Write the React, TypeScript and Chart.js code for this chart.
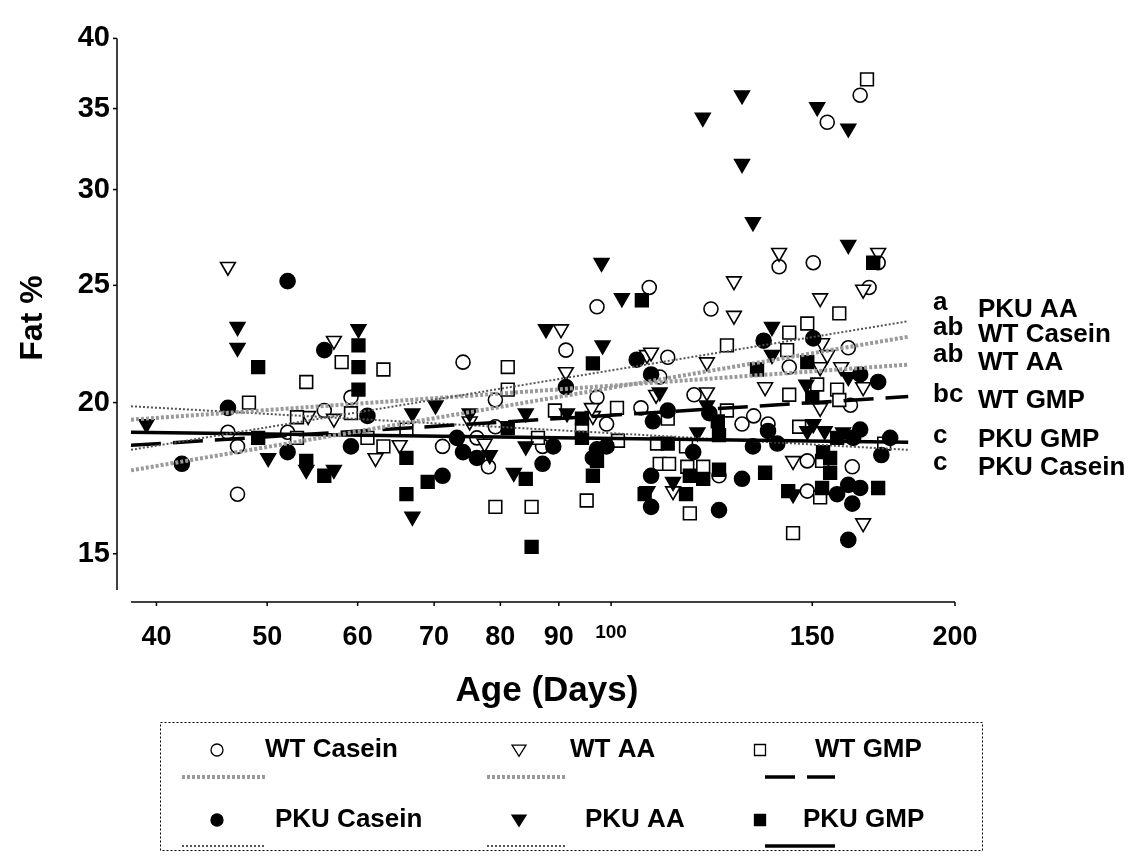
import React, { useEffect, useRef } from 'react';
import { Chart, registerables } from 'chart.js';

Chart.register(...registerables);

const FONT = "'Liberation Sans', Arial, Helvetica, sans-serif";

const X_MIN = 38;
const X_MAX = 200;
const Y_MIN = 14;
const Y_MAX = 40;
const xTicks = [40, 50, 60, 70, 80, 90, 100, 150, 200];
const yTicks = [15, 20, 25, 30, 35, 40];

const wtCasein: [number, number][] = [
  [97.2, 24.0], [108, 24.9], [165.2, 35.9], [154.6, 34.1], [140.3, 25.9], [150.3, 26.1], [171.3, 26.1],
  [168.2, 24.9], [122.3, 23.9], [74.2, 21.6], [91.3, 22.1], [97.2, 20.2], [79.2, 20.1], [106.2, 19.8],
  [59.2, 20.2], [56.1, 19.7], [46.2, 18.9], [52.1, 18.9], [47.1, 18.4], [47.1, 16.8], [99.1, 19.2],
  [79.2, 19.1], [71.2, 18.4], [76.3, 18.7], [78.1, 17.7], [87.1, 18.4], [112.1, 21.8], [110.3, 21.0],
  [161.3, 22.2], [143.2, 21.4], [162, 19.9], [118.2, 20.3], [133.3, 19.5], [130.2, 19.2], [137.2, 19.2],
  [148.5, 17.9], [162.6, 17.7], [148.5, 16.9], [124.3, 17.4],
];

const wtAA: [number, number][] = [
  [46.2, 25.9], [57.2, 22.5], [54.3, 19.5], [57.2, 19.4], [62.2, 18.0], [65.3, 18.45], [75.2, 19.3],
  [77.5, 18.5], [90.4, 23.0], [91.3, 21.2], [96.4, 19.5], [96.2, 19.8], [107.5, 21.9], [140.3, 26.6],
  [171.3, 26.6], [166.2, 24.8], [128.1, 25.2], [128.1, 23.6], [152.4, 24.4], [153, 22.4], [108.4, 22.0],
  [121.3, 21.6], [152.4, 21.4], [159, 21.4], [136.4, 20.6], [166.2, 20.6], [109.5, 20.3], [121.3, 20.4],
  [152.4, 19.8], [144.3, 17.9], [113.3, 16.9], [166.2, 15.9], [154.6, 21.9],
];

const wtGmp: [number, number][] = [
  [48.2, 20.0], [53.1, 19.45], [53.1, 18.7], [54.1, 20.8], [58.1, 21.6], [59.2, 19.6], [61.2, 18.7],
  [63.2, 21.3], [63.2, 18.4], [66.2, 19.0], [81.2, 21.4], [81.2, 20.5], [89.3, 19.7], [86.3, 18.7],
  [94.3, 19.0], [101.2, 19.8], [79.2, 16.4], [85.2, 16.4], [95.2, 16.6], [101.4, 18.6], [167.5, 37.0],
  [158.4, 23.7], [148.5, 23.25], [143.2, 22.85], [126.3, 22.3], [142.6, 22.1], [151.5, 20.7], [157.7, 20.5],
  [143.2, 20.3], [158.4, 20.1], [126.3, 19.7], [146.1, 19.1], [112.1, 19.4], [109.7, 18.5], [116.3, 18.4],
  [153, 17.9], [110.3, 17.8], [112.4, 17.8], [116.6, 17.7], [120.4, 17.7], [152.4, 16.7], [117.2, 16.2],
  [144.3, 15.6], [173.4, 18.5],
];

const pkuCasein: [number, number][] = [
  [42.1, 17.8], [46.2, 19.8], [52.1, 25.2], [56.1, 22.1], [61.2, 19.5], [59.2, 18.4], [52.1, 18.2],
  [73.3, 18.7], [74.2, 18.2], [76.3, 18.0], [71.2, 17.4], [87.1, 17.8], [89, 18.4], [91.3, 20.6],
  [97.2, 18.3], [99.1, 18.4], [96.4, 18.0], [105.3, 21.7], [108.8, 19.3], [112.1, 19.7], [108.4, 17.4],
  [108.4, 16.4], [118, 18.2], [121.9, 19.6], [124.3, 16.3], [130.2, 17.3], [133.1, 18.4], [137.2, 18.95],
  [139.8, 18.5], [136, 22.5], [150.3, 22.6], [165.2, 21.1], [171.3, 20.8], [165.2, 19.0], [162.9, 18.7],
  [175.5, 18.7], [172.4, 18.1], [157.7, 16.8], [161.3, 17.1], [165.2, 17.0], [162.6, 16.5], [161.3, 15.4],
  [108.4, 21.1],
];

const pkuAA: [number, number][] = [
  [39.2, 19.2], [47.1, 23.1], [47.1, 22.2], [60.1, 23.0], [50.1, 18.0], [54.1, 17.6], [57.2, 17.6],
  [67.0, 19.6], [70.2, 19.9], [75.2, 19.6], [78.3, 18.1], [84.2, 18.4], [84.2, 19.6], [82.2, 17.5],
  [67.0, 16.1], [87.7, 23.0], [91.5, 19.6], [98.3, 22.3], [98.1, 26.1], [102.2, 24.4], [120.3, 34.4],
  [130.2, 35.9], [151.5, 35.1], [161.3, 33.7], [130.2, 31.5], [133.1, 28.2], [161.3, 27.0], [138.3, 23.1],
  [138.3, 21.9], [161.3, 21.0], [148.2, 20.7], [110.3, 20.4], [121.3, 19.9], [119, 18.9], [150.3, 19.2],
  [148.5, 18.95], [153.8, 18.95], [159.6, 18.9], [113.3, 17.2], [107.6, 16.9], [144.3, 16.8],
];

const pkuGmp: [number, number][] = [
  [49.1, 21.4], [49.1, 18.7], [60.1, 22.3], [60.1, 21.4], [60.1, 20.5], [54.1, 17.9], [56.1, 17.4],
  [66.2, 18.0], [66.2, 16.8], [69.1, 17.2], [81.2, 19.05], [84.2, 17.3], [85.2, 15.2], [94.3, 19.4],
  [94.3, 18.7], [96.4, 21.55], [97.2, 17.9], [96.4, 17.4], [106.4, 24.3], [107, 16.8], [169.6, 26.1],
  [148.5, 21.6], [134.2, 21.3], [150, 20.2], [124, 19.3], [124.3, 18.8], [157.7, 18.7], [112.1, 18.5],
  [153.3, 18.2], [155.5, 18.0], [155.5, 17.5], [117.2, 17.4], [120.4, 17.3], [116.3, 16.8], [124.3, 17.6],
  [136.4, 17.5], [142.9, 16.9], [153, 17.0], [171.3, 17.0],
];

// regression lines: values at fitX[0] and fitX[1]
const fitX = [38, 182];
const fitPkuAA = [18.28, 23.35];
const fitWtCasein = [17.58, 22.67];
const fitWtAA = [19.36, 21.5];
const fitWtGmp = [18.44, 20.23];
const fitPkuGmp = [18.9, 18.55];
const fitPkuCasein = [19.86, 18.28];

const sigLetters = ['a', 'ab', 'ab', 'bc', 'c', 'c'];
const sigNames = ['PKU AA', 'WT Casein', 'WT AA', 'WT GMP', 'PKU GMP', 'PKU Casein'];

const legendNames = ['WT Casein', 'WT AA', 'WT GMP', 'PKU Casein', 'PKU AA', 'PKU GMP'];

const GREY_BAND = { color: '#9a9a9a', width: 4, dash: [3, 2] };
const FINE_DOT = { color: '#555555', width: 2, dash: [2, 2] };
const BLACK_DASH = { color: '#000000', width: 3.5, dash: [30, 12] };
const SOLID = { color: '#000000', width: 3.5, dash: [] as number[] };

const toPts = (arr: [number, number][]) => arr.map(([x, y]) => ({ x, y }));
const fitPts = (f: number[]) => [{ x: fitX[0], y: f[0] }, { x: fitX[1], y: f[1] }];

function drawMarker(ctx: CanvasRenderingContext2D, kind: string, filled: boolean, x: number, y: number, r: number) {
  ctx.beginPath();
  if (kind === 'circle') {
    ctx.arc(x, y, r, 0, Math.PI * 2);
  } else if (kind === 'rect') {
    ctx.rect(x - r, y - r, 2 * r, 2 * r);
  } else {
    ctx.moveTo(x - r, y - r * 0.7);
    ctx.lineTo(x + r, y - r * 0.7);
    ctx.lineTo(x, y + r * 0.9);
    ctx.closePath();
  }
  ctx.fillStyle = filled ? '#000' : '#fff';
  ctx.fill();
  ctx.lineWidth = 1.3;
  ctx.strokeStyle = '#000';
  ctx.stroke();
}

const decorPlugin = {
  id: 'decor',
  afterDraw(chart: any) {
    const { ctx, chartArea, scales } = chart;
    const xs = scales.x;
    const ys = scales.y;
    ctx.save();
    ctx.strokeStyle = '#000';
    ctx.lineWidth = 1.5;
    ctx.setLineDash([]);
    // y axis (offset)
    const ax = chartArea.left - 14;
    ctx.beginPath();
    ctx.moveTo(ax, ys.getPixelForValue(Y_MAX));
    ctx.lineTo(ax, chartArea.bottom);
    ctx.stroke();
    yTicks.forEach((v) => {
      const p = ys.getPixelForValue(v);
      ctx.beginPath();
      ctx.moveTo(ax - 4, p);
      ctx.lineTo(ax, p);
      ctx.stroke();
    });
    // x axis (offset)
    const ay = chartArea.bottom + 12;
    ctx.beginPath();
    ctx.moveTo(chartArea.left, ay);
    ctx.lineTo(chartArea.right, ay);
    ctx.stroke();
    xTicks.forEach((v) => {
      const p = xs.getPixelForValue(v);
      ctx.beginPath();
      ctx.moveTo(p, ay);
      ctx.lineTo(p, ay + 4);
      ctx.stroke();
    });

    ctx.fillStyle = '#000';
    // axis titles
    ctx.font = `bold 32px ${FONT}`;
    ctx.textAlign = 'center';
    ctx.textBaseline = 'middle';
    ctx.save();
    ctx.translate(33, 318);
    ctx.rotate(-Math.PI / 2);
    ctx.fillText('Fat %', 0, 0);
    ctx.restore();
    ctx.font = `bold 35px ${FONT}`;
    ctx.fillText('Age (Days)', 547, 691);

    // significance annotations
    const letterBase = [310, 335, 362, 402, 443, 470];
    const nameBase = [317, 342, 370, 408, 447, 475];
    ctx.textAlign = 'left';
    ctx.textBaseline = 'alphabetic';
    ctx.font = `bold 26px ${FONT}`;
    sigLetters.forEach((t, i) => ctx.fillText(t, 933, letterBase[i]));
    sigNames.forEach((t, i) => ctx.fillText(t, 978, nameBase[i]));

    // legend box
    ctx.lineWidth = 1;
    ctx.setLineDash([2, 2]);
    ctx.strokeRect(160.5, 722.5, 822, 128);
    ctx.setLineDash([]);

    const markerX = [217, 519, 760];
    const textX = [[265, 570, 815], [275, 585, 803]];
    const kinds = ['circle', 'tri', 'rect'];
    const rowY = [750, 820];
    const lineY = [777, 846];
    const lineRanges = [[182, 265], [487, 565], [765, 835]];
    const rowStyles = [[GREY_BAND, GREY_BAND, BLACK_DASH], [FINE_DOT, FINE_DOT, SOLID]];
    ctx.font = `bold 26px ${FONT}`;
    ctx.textBaseline = 'middle';
    for (let r = 0; r < 2; r++) {
      for (let c = 0; c < 3; c++) {
        const sz = kinds[c] === 'tri' ? 7 : kinds[c] === 'rect' ? 5.5 : 6;
        drawMarker(ctx, kinds[c], r === 1, markerX[c], rowY[r], sz);
        ctx.fillStyle = '#000';
        ctx.fillText(legendNames[r * 3 + c], textX[r][c], rowY[r]);
        const st = rowStyles[r][c];
        ctx.strokeStyle = st.color;
        ctx.lineWidth = st.width;
        ctx.setLineDash(st.dash);
        ctx.beginPath();
        ctx.moveTo(lineRanges[c][0], lineY[r]);
        ctx.lineTo(lineRanges[c][1], lineY[r]);
        ctx.stroke();
        ctx.setLineDash([]);
        ctx.strokeStyle = '#000';
      }
    }
    ctx.restore();
  },
};

export default function App() {
  const ref = useRef<HTMLCanvasElement | null>(null);
  useEffect(() => {
    if (!ref.current) return;
    const lineDs = (label: string, f: number[], st: any) => ({
      label,
      data: fitPts(f),
      showLine: true,
      borderColor: st.color,
      borderWidth: st.width,
      borderDash: st.dash,
      pointRadius: 0,
      fill: false,
      order: 0,
    });
    const pointDs = (label: string, arr: [number, number][], style: string, filled: boolean, r: number, rot = 0) => ({
      label,
      data: toPts(arr),
      showLine: false,
      pointStyle: style,
      pointRadius: r,
      pointRotation: rot,
      pointBackgroundColor: filled ? '#000' : '#fff',
      pointBorderColor: '#000',
      pointBorderWidth: 1.6,
      order: 1,
    });
    const chart = new Chart(ref.current, {
      type: 'scatter',
      data: {
        datasets: [
          lineDs('PKU AA fit', fitPkuAA, FINE_DOT),
          lineDs('WT Casein fit', fitWtCasein, GREY_BAND),
          lineDs('WT AA fit', fitWtAA, GREY_BAND),
          lineDs('WT GMP fit', fitWtGmp, BLACK_DASH),
          lineDs('PKU GMP fit', fitPkuGmp, SOLID),
          lineDs('PKU Casein fit', fitPkuCasein, FINE_DOT),
          pointDs('PKU GMP', pkuGmp, 'rect', true, 9),
          pointDs('PKU AA', pkuAA, 'triangle', true, 8.5, 180),
          pointDs('PKU Casein', pkuCasein, 'circle', true, 7.5),
          pointDs('WT GMP', wtGmp, 'rect', false, 9),
          pointDs('WT AA', wtAA, 'triangle', false, 8.5, 180),
          pointDs('WT Casein', wtCasein, 'circle', false, 7),
        ] as any,
      },
      options: {
        responsive: false,
        animation: false,
        events: [],
        layout: { padding: { left: 0, top: 20, right: 188, bottom: 0 } },
        plugins: { legend: { display: false }, tooltip: { enabled: false }, title: { display: false } },
        scales: {
          x: {
            type: 'logarithmic',
            min: X_MIN,
            max: X_MAX,
            bounds: 'data',
            grid: { display: false, drawTicks: false },
            border: { display: false },
            afterBuildTicks: (s: any) => {
              s.ticks = xTicks.map((v) => ({ value: v }));
            },
            afterFit: (s: any) => {
              s.height = 271;
            },
            ticks: {
              autoSkip: false,
              maxRotation: 0,
              minRotation: 0,
              padding: 31,
              color: '#000',
              font: (c: any) => ({
                family: FONT,
                weight: 'bold',
                size: c.tick && c.tick.value === 100 ? 19 : 27,
              }),
              callback: (v: any) => String(v),
            },
          },
          y: {
            type: 'logarithmic',
            min: Y_MIN,
            max: Y_MAX,
            bounds: 'data',
            grid: { display: false, drawTicks: false },
            border: { display: false },
            afterBuildTicks: (s: any) => {
              s.ticks = yTicks.map((v) => ({ value: v }));
            },
            afterFit: (s: any) => {
              s.width = 131;
            },
            ticks: {
              autoSkip: false,
              padding: 21,
              color: '#000',
              font: { family: FONT, weight: 'bold', size: 29 },
              callback: (v: any) => String(v),
            },
          },
        },
      } as any,
      plugins: [decorPlugin],
    });
    return () => chart.destroy();
  }, []);
  return (
    <div style={{ position: 'absolute', left: 0, top: 0, width: 1143, height: 861, background: '#fff' }}>
      <canvas ref={ref} width={1143} height={861} style={{ display: 'block' }} />
    </div>
  );
}
